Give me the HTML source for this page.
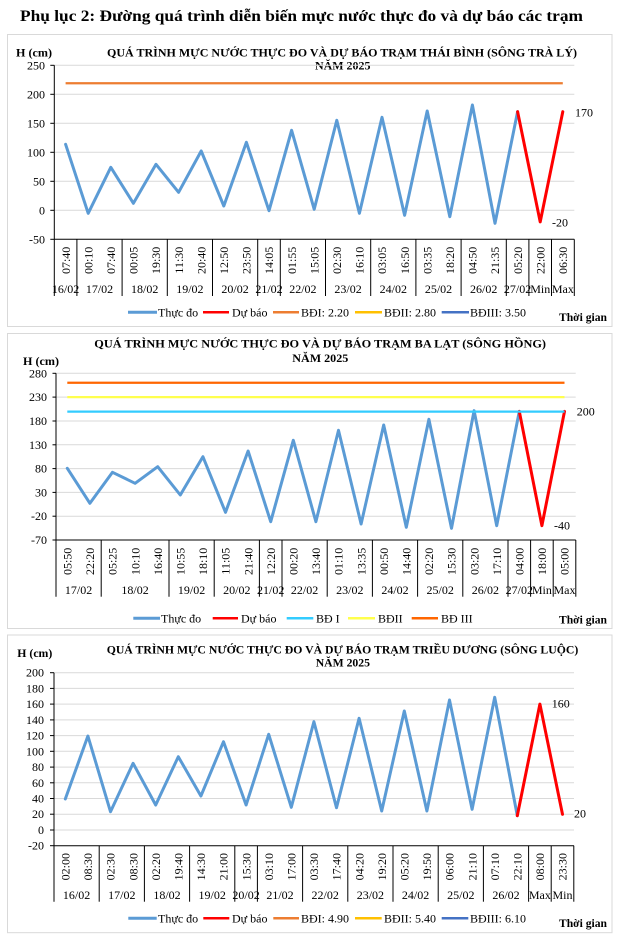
<!DOCTYPE html>
<html><head><meta charset="utf-8"><style>
html,body{margin:0;padding:0;background:#fff;}
svg{display:block;font-family:"Liberation Serif","Times New Roman",serif;}
.g{stroke:#D9D9D9;stroke-width:1;}
.ax{stroke:#000;stroke-width:1;}
.yl{font-size:12px;text-anchor:end;fill:#000;}
.tl{font-size:12px;text-anchor:end;fill:#000;}
.dl{font-size:12px;text-anchor:middle;fill:#000;}
.lg{font-size:12px;fill:#000;}
.bt{font-size:12px;font-weight:bold;fill:#000;}
.an{font-size:12px;fill:#000;}
</style></head><body>
<svg width="618" height="938" viewBox="0 0 618 938" xmlns="http://www.w3.org/2000/svg">
<rect x="0" y="0" width="618" height="938" fill="#fff"/>
<text x="20" y="21" font-size="16" font-weight="bold" textLength="563" lengthAdjust="spacingAndGlyphs">Phụ lục 2: Đường quá trình diễn biến mực nước thực đo và dự báo các trạm</text>

<!-- ===== CHART 1 ===== -->
<rect x="7.5" y="34.5" width="604.5" height="292" fill="none" stroke="#D9D9D9"/>
<text class="bt" x="107" y="56.5" textLength="470" lengthAdjust="spacingAndGlyphs">QUÁ TRÌNH MỰC NƯỚC THỰC ĐO VÀ DỰ BÁO TRẠM THÁI BÌNH (SÔNG TRÀ LÝ)</text>
<text class="bt" x="315" y="69.5" textLength="55.5" lengthAdjust="spacingAndGlyphs">NĂM 2025</text>
<text class="bt" x="16" y="56.5" textLength="36" lengthAdjust="spacingAndGlyphs">H (cm)</text>
<g class="g">
<line x1="54.3" y1="65.3" x2="574.3" y2="65.3"/><line x1="54.3" y1="94.3" x2="574.3" y2="94.3"/><line x1="54.3" y1="123.3" x2="574.3" y2="123.3"/><line x1="54.3" y1="152.3" x2="574.3" y2="152.3"/><line x1="54.3" y1="181.3" x2="574.3" y2="181.3"/><line x1="54.3" y1="210.3" x2="574.3" y2="210.3"/>
</g>
<g class="ax">
<line x1="54.3" y1="65.3" x2="54.3" y2="239.3"/><line x1="54.3" y1="239.3" x2="574.3" y2="239.3"/>
<line x1="50.3" y1="65.3" x2="54.3" y2="65.3"/><line x1="50.3" y1="94.3" x2="54.3" y2="94.3"/><line x1="50.3" y1="123.3" x2="54.3" y2="123.3"/><line x1="50.3" y1="152.3" x2="54.3" y2="152.3"/><line x1="50.3" y1="181.3" x2="54.3" y2="181.3"/><line x1="50.3" y1="210.3" x2="54.3" y2="210.3"/><line x1="50.3" y1="239.3" x2="54.3" y2="239.3"/>
<line x1="54.3" y1="239.3" x2="54.3" y2="296"/><line x1="76.9" y1="239.3" x2="76.9" y2="296"/><line x1="122.1" y1="239.3" x2="122.1" y2="296"/><line x1="167.3" y1="239.3" x2="167.3" y2="296"/><line x1="212.5" y1="239.3" x2="212.5" y2="296"/><line x1="257.7" y1="239.3" x2="257.7" y2="296"/><line x1="280.3" y1="239.3" x2="280.3" y2="296"/><line x1="325.5" y1="239.3" x2="325.5" y2="296"/><line x1="370.7" y1="239.3" x2="370.7" y2="296"/><line x1="415.9" y1="239.3" x2="415.9" y2="296"/><line x1="461.1" y1="239.3" x2="461.1" y2="296"/><line x1="506.3" y1="239.3" x2="506.3" y2="296"/><line x1="528.9" y1="239.3" x2="528.9" y2="296"/><line x1="551.5" y1="239.3" x2="551.5" y2="296"/><line x1="574.3" y1="239.3" x2="574.3" y2="296"/>
</g>
<g class="yl">
<text x="45" y="69.3">250</text><text x="45" y="98.3">200</text><text x="45" y="127.3">150</text><text x="45" y="156.3">100</text><text x="45" y="185.3">50</text><text x="45" y="214.3">0</text><text x="45" y="243.3">-50</text>
</g>
<g class="tl">
<text transform="translate(65.6,246.7) rotate(-90)" dy="0.35em">07:40</text>
<text transform="translate(88.2,246.7) rotate(-90)" dy="0.35em">00:10</text>
<text transform="translate(110.8,246.7) rotate(-90)" dy="0.35em">07:40</text>
<text transform="translate(133.4,246.7) rotate(-90)" dy="0.35em">00:05</text>
<text transform="translate(156.0,246.7) rotate(-90)" dy="0.35em">19:30</text>
<text transform="translate(178.6,246.7) rotate(-90)" dy="0.35em">11:30</text>
<text transform="translate(201.2,246.7) rotate(-90)" dy="0.35em">20:40</text>
<text transform="translate(223.8,246.7) rotate(-90)" dy="0.35em">12:50</text>
<text transform="translate(246.4,246.7) rotate(-90)" dy="0.35em">23:50</text>
<text transform="translate(269.0,246.7) rotate(-90)" dy="0.35em">14:05</text>
<text transform="translate(291.6,246.7) rotate(-90)" dy="0.35em">01:55</text>
<text transform="translate(314.2,246.7) rotate(-90)" dy="0.35em">15:05</text>
<text transform="translate(336.8,246.7) rotate(-90)" dy="0.35em">02:30</text>
<text transform="translate(359.4,246.7) rotate(-90)" dy="0.35em">16:10</text>
<text transform="translate(382.0,246.7) rotate(-90)" dy="0.35em">03:05</text>
<text transform="translate(404.6,246.7) rotate(-90)" dy="0.35em">16:50</text>
<text transform="translate(427.2,246.7) rotate(-90)" dy="0.35em">03:35</text>
<text transform="translate(449.8,246.7) rotate(-90)" dy="0.35em">18:20</text>
<text transform="translate(472.4,246.7) rotate(-90)" dy="0.35em">04:50</text>
<text transform="translate(495.0,246.7) rotate(-90)" dy="0.35em">21:35</text>
<text transform="translate(517.6,246.7) rotate(-90)" dy="0.35em">05:20</text>
<text transform="translate(540.2,246.7) rotate(-90)" dy="0.35em">22:00</text>
<text transform="translate(562.8,246.7) rotate(-90)" dy="0.35em">06:30</text>
</g>
<g class="dl">
<text x="65.6" y="293.2">16/02</text><text x="99.5" y="293.2">17/02</text><text x="144.7" y="293.2">18/02</text><text x="189.9" y="293.2">19/02</text><text x="235.1" y="293.2">20/02</text><text x="269.0" y="293.2">21/02</text><text x="302.9" y="293.2">22/02</text><text x="348.1" y="293.2">23/02</text><text x="393.3" y="293.2">24/02</text><text x="438.5" y="293.2">25/02</text><text x="483.7" y="293.2">26/02</text><text x="517.6" y="293.2">27/02</text><text x="540.2" y="293.2">Min</text><text x="562.9" y="293.2">Max</text>
</g>
<polyline fill="none" stroke="#5B9BD5" stroke-width="3" stroke-linejoin="round" stroke-linecap="round" points="65.6,144.3 88.2,213.3 110.8,167.3 133.4,203.3 156.0,164.3 178.6,192.3 201.2,151 223.8,206 246.4,142.3 269.0,210.7 291.6,130.3 314.2,209.3 336.8,120.3 359.4,213.3 382.0,117.3 404.6,215.3 427.2,111 449.8,216.7 472.4,105 495.0,223.3 517.6,111.7"/>
<polyline fill="none" stroke="#FF0000" stroke-width="3" stroke-linejoin="round" stroke-linecap="round" points="517.6,111.7 540.2,221.9 562.8,111.7"/>
<line x1="65.6" y1="83.2" x2="562.8" y2="83.2" stroke="#ED7D31" stroke-width="2.25"/>
<text class="an" x="575" y="116.3">170</text>
<text class="an" x="552" y="226.7">-20</text>
<line x1="128" y1="312.3" x2="157" y2="312.3" stroke="#5B9BD5" stroke-width="3"/>
<text class="lg" x="158" y="316.5">Thực đo</text>
<line x1="203" y1="312.3" x2="229" y2="312.3" stroke="#FF0000" stroke-width="2.5"/>
<text class="lg" x="232" y="316.5">Dự báo</text>
<line x1="273" y1="312.3" x2="299" y2="312.3" stroke="#ED7D31" stroke-width="2.5"/>
<text class="lg" x="301" y="316.5">BĐI: 2.20</text>
<line x1="355" y1="312.3" x2="382" y2="312.3" stroke="#FFC000" stroke-width="2.5"/>
<text class="lg" x="384" y="316.5">BĐII: 2.80</text>
<line x1="441.7" y1="312.3" x2="469" y2="312.3" stroke="#4472C4" stroke-width="2.5"/>
<text class="lg" x="470" y="316.5">BĐIII: 3.50</text>
<text class="bt" x="559" y="321" textLength="48" lengthAdjust="spacingAndGlyphs">Thời gian</text>

<!-- ===== CHART 2 ===== -->
<rect x="7.5" y="333.5" width="604.5" height="295" fill="none" stroke="#D9D9D9"/>
<text class="bt" x="94.3" y="347.5" textLength="451.7" lengthAdjust="spacingAndGlyphs">QUÁ TRÌNH MỰC NƯỚC THỰC ĐO VÀ DỰ BÁO TRẠM BA LẠT (SÔNG HỒNG)</text>
<text class="bt" x="292.3" y="362" textLength="56" lengthAdjust="spacingAndGlyphs">NĂM 2025</text>
<text class="bt" x="23" y="365" textLength="36" lengthAdjust="spacingAndGlyphs">H (cm)</text>
<g class="g">
<line x1="56" y1="373.3" x2="575.7" y2="373.3"/><line x1="56" y1="397.1" x2="575.7" y2="397.1"/><line x1="56" y1="421.0" x2="575.7" y2="421.0"/><line x1="56" y1="444.8" x2="575.7" y2="444.8"/><line x1="56" y1="468.6" x2="575.7" y2="468.6"/><line x1="56" y1="492.4" x2="575.7" y2="492.4"/><line x1="56" y1="516.2" x2="575.7" y2="516.2"/>
</g>
<g class="ax">
<line x1="56" y1="373.3" x2="56" y2="540"/><line x1="56" y1="540" x2="575.8" y2="540"/>
<line x1="52.5" y1="373.3" x2="56" y2="373.3"/><line x1="52.5" y1="397.1" x2="56" y2="397.1"/><line x1="52.5" y1="421.0" x2="56" y2="421.0"/><line x1="52.5" y1="444.8" x2="56" y2="444.8"/><line x1="52.5" y1="468.6" x2="56" y2="468.6"/><line x1="52.5" y1="492.4" x2="56" y2="492.4"/><line x1="52.5" y1="516.2" x2="56" y2="516.2"/><line x1="52.5" y1="540" x2="56" y2="540"/>
<line x1="56" y1="540" x2="56" y2="596.7"/><line x1="101.2" y1="540" x2="101.2" y2="596.7"/><line x1="169" y1="540" x2="169" y2="596.7"/><line x1="214.2" y1="540" x2="214.2" y2="596.7"/><line x1="259.4" y1="540" x2="259.4" y2="596.7"/><line x1="282" y1="540" x2="282" y2="596.7"/><line x1="327.2" y1="540" x2="327.2" y2="596.7"/><line x1="372.4" y1="540" x2="372.4" y2="596.7"/><line x1="417.6" y1="540" x2="417.6" y2="596.7"/><line x1="462.8" y1="540" x2="462.8" y2="596.7"/><line x1="508" y1="540" x2="508" y2="596.7"/><line x1="530.6" y1="540" x2="530.6" y2="596.7"/><line x1="553.2" y1="540" x2="553.2" y2="596.7"/><line x1="575.8" y1="540" x2="575.8" y2="596.7"/>
</g>
<g class="yl">
<text x="47" y="377.3">280</text><text x="47" y="401.1">230</text><text x="47" y="425.0">180</text><text x="47" y="448.8">130</text><text x="47" y="472.6">80</text><text x="47" y="496.4">30</text><text x="47" y="520.2">-20</text><text x="47" y="544">-70</text>
</g>
<g class="tl">
<text transform="translate(67.3,547.7) rotate(-90)" dy="0.35em">05:50</text>
<text transform="translate(89.9,547.7) rotate(-90)" dy="0.35em">22:20</text>
<text transform="translate(112.5,547.7) rotate(-90)" dy="0.35em">05:25</text>
<text transform="translate(135.1,547.7) rotate(-90)" dy="0.35em">10:10</text>
<text transform="translate(157.7,547.7) rotate(-90)" dy="0.35em">16:40</text>
<text transform="translate(180.3,547.7) rotate(-90)" dy="0.35em">10:55</text>
<text transform="translate(202.9,547.7) rotate(-90)" dy="0.35em">18:10</text>
<text transform="translate(225.5,547.7) rotate(-90)" dy="0.35em">11:05</text>
<text transform="translate(248.1,547.7) rotate(-90)" dy="0.35em">21:40</text>
<text transform="translate(270.7,547.7) rotate(-90)" dy="0.35em">12:20</text>
<text transform="translate(293.3,547.7) rotate(-90)" dy="0.35em">00:20</text>
<text transform="translate(315.9,547.7) rotate(-90)" dy="0.35em">13:40</text>
<text transform="translate(338.5,547.7) rotate(-90)" dy="0.35em">01:10</text>
<text transform="translate(361.1,547.7) rotate(-90)" dy="0.35em">13:35</text>
<text transform="translate(383.7,547.7) rotate(-90)" dy="0.35em">00:50</text>
<text transform="translate(406.3,547.7) rotate(-90)" dy="0.35em">14:40</text>
<text transform="translate(428.9,547.7) rotate(-90)" dy="0.35em">02:20</text>
<text transform="translate(451.5,547.7) rotate(-90)" dy="0.35em">15:30</text>
<text transform="translate(474.1,547.7) rotate(-90)" dy="0.35em">03:20</text>
<text transform="translate(496.7,547.7) rotate(-90)" dy="0.35em">17:10</text>
<text transform="translate(519.3,547.7) rotate(-90)" dy="0.35em">04:00</text>
<text transform="translate(541.9,547.7) rotate(-90)" dy="0.35em">18:00</text>
<text transform="translate(564.5,547.7) rotate(-90)" dy="0.35em">05:00</text>
</g>
<g class="dl">
<text x="78.6" y="594.2">17/02</text><text x="135.1" y="594.2">18/02</text><text x="191.6" y="594.2">19/02</text><text x="236.8" y="594.2">20/02</text><text x="270.7" y="594.2">21/02</text><text x="304.6" y="594.2">22/02</text><text x="349.8" y="594.2">23/02</text><text x="395" y="594.2">24/02</text><text x="440.2" y="594.2">25/02</text><text x="485.4" y="594.2">26/02</text><text x="519.3" y="594.2">27/02</text><text x="541.9" y="594.2">Min</text><text x="564.5" y="594.2">Max</text>
</g>
<polyline fill="none" stroke="#5B9BD5" stroke-width="3" stroke-linejoin="round" stroke-linecap="round" points="67.3,468.3 89.9,503.3 112.5,472.3 135.1,483.3 157.7,466.7 180.3,495 202.9,456.7 225.5,512.3 248.1,451 270.7,521.7 293.3,440.3 315.9,521.7 338.5,430.3 361.1,524 383.7,425 406.3,527.3 428.9,419.3 451.5,528.3 474.1,410.7 496.7,525.7 519.3,411.4"/>
<polyline fill="none" stroke="#FF0000" stroke-width="3" stroke-linejoin="round" stroke-linecap="round" points="519.3,411.4 541.9,525.7 564.5,411.4"/>
<line x1="67.3" y1="411.6" x2="564.5" y2="411.6" stroke="#33CCFF" stroke-width="2.25"/>
<line x1="67.3" y1="397.1" x2="564.5" y2="397.1" stroke="#FFFF4D" stroke-width="2.25"/>
<line x1="67.3" y1="382.8" x2="564.5" y2="382.8" stroke="#FF6600" stroke-width="2.25"/>
<text class="an" x="576.7" y="415.7">200</text>
<text class="an" x="554" y="529.7">-40</text>
<line x1="133.3" y1="618.3" x2="160" y2="618.3" stroke="#5B9BD5" stroke-width="3"/>
<text class="lg" x="161" y="622.5">Thực đo</text>
<line x1="212.7" y1="618.3" x2="238" y2="618.3" stroke="#FF0000" stroke-width="2.5"/>
<text class="lg" x="241" y="622.5">Dự báo</text>
<line x1="286.7" y1="618.3" x2="313.3" y2="618.3" stroke="#33CCFF" stroke-width="2.5"/>
<text class="lg" x="316" y="622.5">BĐ I</text>
<line x1="348" y1="618.3" x2="375" y2="618.3" stroke="#FFFF4D" stroke-width="2.5"/>
<text class="lg" x="378" y="622.5">BĐII</text>
<line x1="411.7" y1="618.3" x2="438" y2="618.3" stroke="#FF6600" stroke-width="2.5"/>
<text class="lg" x="441" y="622.5">BĐ III</text>
<text class="bt" x="559" y="623.5" textLength="48" lengthAdjust="spacingAndGlyphs">Thời gian</text>

<!-- ===== CHART 3 ===== -->
<rect x="7.5" y="635" width="604.5" height="297.7" fill="none" stroke="#D9D9D9"/>
<text class="bt" x="106.7" y="653.5" textLength="471.6" lengthAdjust="spacingAndGlyphs">QUÁ TRÌNH MỰC NƯỚC THỰC ĐO VÀ DỰ BÁO TRẠM TRIỀU DƯƠNG (SÔNG LUỘC)</text>
<text class="bt" x="315.7" y="666.5" textLength="54.3" lengthAdjust="spacingAndGlyphs">NĂM 2025</text>
<text class="bt" x="17.3" y="657" textLength="35" lengthAdjust="spacingAndGlyphs">H (cm)</text>
<g class="g">
<line x1="54" y1="672.7" x2="574" y2="672.7"/><line x1="54" y1="688.4" x2="574" y2="688.4"/><line x1="54" y1="704.1" x2="574" y2="704.1"/><line x1="54" y1="719.9" x2="574" y2="719.9"/><line x1="54" y1="735.6" x2="574" y2="735.6"/><line x1="54" y1="751.3" x2="574" y2="751.3"/><line x1="54" y1="767.1" x2="574" y2="767.1"/><line x1="54" y1="782.8" x2="574" y2="782.8"/><line x1="54" y1="798.5" x2="574" y2="798.5"/><line x1="54" y1="814.2" x2="574" y2="814.2"/><line x1="54" y1="830.0" x2="574" y2="830.0"/>
</g>
<g class="ax">
<line x1="54" y1="672.7" x2="54" y2="845.7"/><line x1="54" y1="845.7" x2="574" y2="845.7"/>
<line x1="50" y1="672.7" x2="54" y2="672.7"/><line x1="50" y1="688.4" x2="54" y2="688.4"/><line x1="50" y1="704.1" x2="54" y2="704.1"/><line x1="50" y1="719.9" x2="54" y2="719.9"/><line x1="50" y1="735.6" x2="54" y2="735.6"/><line x1="50" y1="751.3" x2="54" y2="751.3"/><line x1="50" y1="767.1" x2="54" y2="767.1"/><line x1="50" y1="782.8" x2="54" y2="782.8"/><line x1="50" y1="798.5" x2="54" y2="798.5"/><line x1="50" y1="814.2" x2="54" y2="814.2"/><line x1="50" y1="830.0" x2="54" y2="830.0"/><line x1="50" y1="845.7" x2="54" y2="845.7"/>
<line x1="54" y1="845.7" x2="54" y2="901.7"/><line x1="99.2" y1="845.7" x2="99.2" y2="901.7"/><line x1="144.4" y1="845.7" x2="144.4" y2="901.7"/><line x1="189.6" y1="845.7" x2="189.6" y2="901.7"/><line x1="234.8" y1="845.7" x2="234.8" y2="901.7"/><line x1="257.4" y1="845.7" x2="257.4" y2="901.7"/><line x1="302.6" y1="845.7" x2="302.6" y2="901.7"/><line x1="347.8" y1="845.7" x2="347.8" y2="901.7"/><line x1="393" y1="845.7" x2="393" y2="901.7"/><line x1="438.2" y1="845.7" x2="438.2" y2="901.7"/><line x1="483.4" y1="845.7" x2="483.4" y2="901.7"/><line x1="528.6" y1="845.7" x2="528.6" y2="901.7"/><line x1="551.2" y1="845.7" x2="551.2" y2="901.7"/><line x1="573.8" y1="845.7" x2="573.8" y2="901.7"/>
</g>
<g class="yl">
<text x="44" y="676.7">200</text><text x="44" y="692.4">180</text><text x="44" y="708.1">160</text><text x="44" y="723.9">140</text><text x="44" y="739.6">120</text><text x="44" y="755.3">100</text><text x="44" y="771.1">80</text><text x="44" y="786.8">60</text><text x="44" y="802.5">40</text><text x="44" y="818.2">20</text><text x="44" y="834.0">0</text><text x="44" y="849.7">-20</text>
</g>
<g class="tl">
<text transform="translate(65.3,853) rotate(-90)" dy="0.35em">02:00</text>
<text transform="translate(87.9,853) rotate(-90)" dy="0.35em">08:30</text>
<text transform="translate(110.5,853) rotate(-90)" dy="0.35em">02:30</text>
<text transform="translate(133.1,853) rotate(-90)" dy="0.35em">08:30</text>
<text transform="translate(155.7,853) rotate(-90)" dy="0.35em">02:20</text>
<text transform="translate(178.3,853) rotate(-90)" dy="0.35em">19:40</text>
<text transform="translate(200.9,853) rotate(-90)" dy="0.35em">14:30</text>
<text transform="translate(223.5,853) rotate(-90)" dy="0.35em">21:00</text>
<text transform="translate(246.1,853) rotate(-90)" dy="0.35em">15:30</text>
<text transform="translate(268.7,853) rotate(-90)" dy="0.35em">03:10</text>
<text transform="translate(291.3,853) rotate(-90)" dy="0.35em">17:00</text>
<text transform="translate(313.9,853) rotate(-90)" dy="0.35em">03:30</text>
<text transform="translate(336.5,853) rotate(-90)" dy="0.35em">17:40</text>
<text transform="translate(359.1,853) rotate(-90)" dy="0.35em">04:20</text>
<text transform="translate(381.7,853) rotate(-90)" dy="0.35em">19:20</text>
<text transform="translate(404.3,853) rotate(-90)" dy="0.35em">05:20</text>
<text transform="translate(426.9,853) rotate(-90)" dy="0.35em">19:50</text>
<text transform="translate(449.5,853) rotate(-90)" dy="0.35em">06:00</text>
<text transform="translate(472.1,853) rotate(-90)" dy="0.35em">21:10</text>
<text transform="translate(494.7,853) rotate(-90)" dy="0.35em">07:10</text>
<text transform="translate(517.3,853) rotate(-90)" dy="0.35em">22:10</text>
<text transform="translate(539.9,853) rotate(-90)" dy="0.35em">08:00</text>
<text transform="translate(562.5,853) rotate(-90)" dy="0.35em">23:30</text>
</g>
<g class="dl">
<text x="76.6" y="899.2">16/02</text><text x="121.8" y="899.2">17/02</text><text x="167" y="899.2">18/02</text><text x="212.2" y="899.2">19/02</text><text x="246.1" y="899.2">20/02</text><text x="280" y="899.2">21/02</text><text x="325.2" y="899.2">22/02</text><text x="370.4" y="899.2">23/02</text><text x="415.6" y="899.2">24/02</text><text x="460.8" y="899.2">25/02</text><text x="506" y="899.2">26/02</text><text x="539.9" y="899.2">Max</text><text x="562.5" y="899.2">Min</text>
</g>
<polyline fill="none" stroke="#5B9BD5" stroke-width="3" stroke-linejoin="round" stroke-linecap="round" points="65.3,799 87.9,736 110.5,811.7 133.1,763.3 155.7,805 178.3,756.7 200.9,796 223.5,741.7 246.1,805 268.7,734.3 291.3,807.3 313.9,721.7 336.5,807.7 359.1,718.3 381.7,811 404.3,711 426.9,811 449.5,700 472.1,809.3 494.7,697.3 517.3,815.7"/>
<polyline fill="none" stroke="#FF0000" stroke-width="3" stroke-linejoin="round" stroke-linecap="round" points="517.3,815.7 539.9,704.1 562.5,814.3"/>
<text class="an" x="551.7" y="707.3">160</text>
<text class="an" x="574" y="817.3">20</text>
<line x1="128.3" y1="918.3" x2="156.7" y2="918.3" stroke="#5B9BD5" stroke-width="3"/>
<text class="lg" x="158" y="922.5">Thực đo</text>
<line x1="203.3" y1="918.3" x2="229.3" y2="918.3" stroke="#FF0000" stroke-width="2.5"/>
<text class="lg" x="232" y="922.5">Dự báo</text>
<line x1="273.3" y1="918.3" x2="299" y2="918.3" stroke="#ED7D31" stroke-width="2.5"/>
<text class="lg" x="301" y="922.5">BĐI: 4.90</text>
<line x1="355" y1="918.3" x2="381.7" y2="918.3" stroke="#FFC000" stroke-width="2.5"/>
<text class="lg" x="384" y="922.5">BĐII: 5.40</text>
<line x1="441.7" y1="918.3" x2="468.3" y2="918.3" stroke="#4472C4" stroke-width="2.5"/>
<text class="lg" x="470" y="922.5">BĐIII: 6.10</text>
<text class="bt" x="559" y="927" textLength="48" lengthAdjust="spacingAndGlyphs">Thời gian</text>
</svg>
</body></html>
